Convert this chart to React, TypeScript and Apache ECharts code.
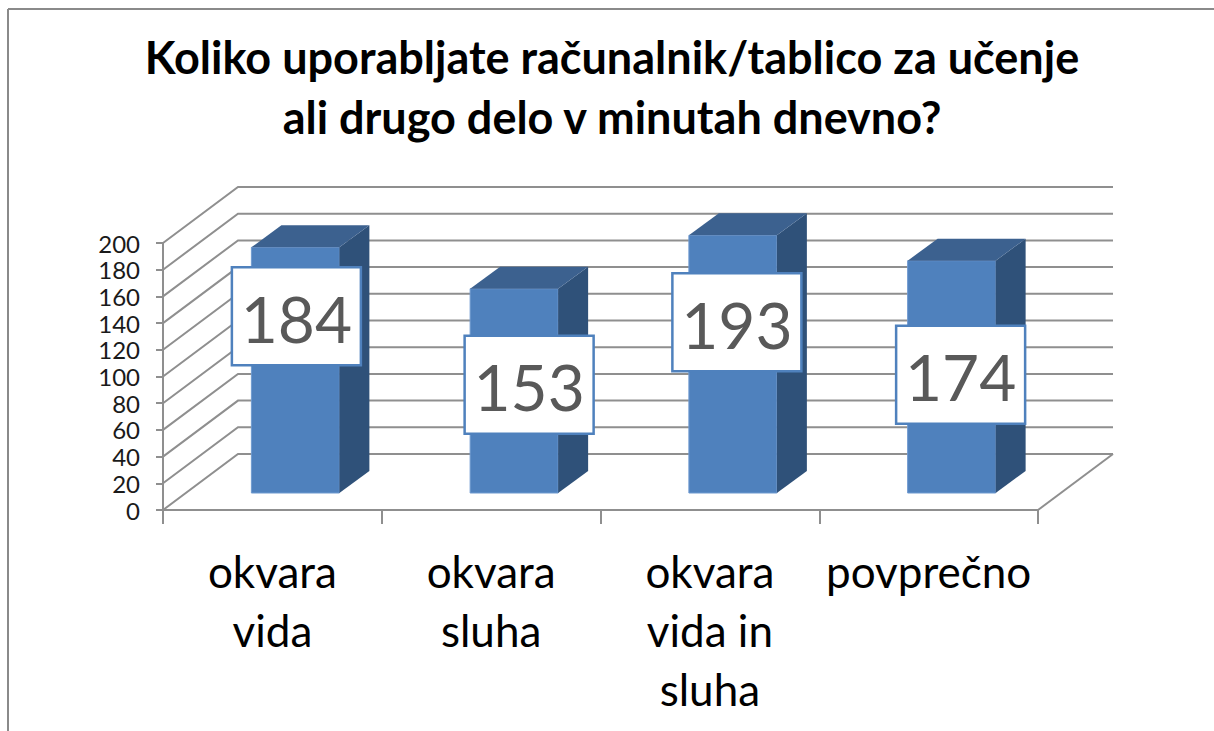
import React, { useEffect, useRef } from "react";
import * as echarts from "echarts";

const titleLines = ["Koliko uporabljate računalnik/tablico za učenje", "ali drugo delo v minutah dnevno?"];
const categories = ["okvara\nvida", "okvara\nsluha", "okvara\nvida in\nsluha", "povprečno"];
const values = [184, 153, 193, 174];
const gridTicks = [0, 20, 40, 60, 80, 100, 120, 140, 160, 180, 200];
const labelCentreBelowTop = [69, 96, 87, 114];
const labelShiftRight = [1, 15, 4, 9];

const FONT = "Lato, Carlito, Calibri, sans-serif";
const GRID = "#8f8f8f";
const WALL_DX = 75;
const WALL_DY = 56;
const BAR_SHIFT_X = 23;
const BAR_SHIFT_Y = 17;
const BAR_W = 88;
const DEPTH_X = 30;
const DEPTH_Y = 22;
const LABEL_W = 129;
const LABEL_H = 98;

function renderWall(params: any, api: any) {
  const cs = params.coordSys;
  const y = api.coord([0, api.value(1)])[1];
  return {
    type: "polyline",
    silent: true,
    shape: {
      points: [
        [cs.x, y],
        [cs.x + WALL_DX, y - WALL_DY],
        [cs.x + cs.width + WALL_DX, y - WALL_DY],
      ],
    },
    style: { fill: "none", stroke: GRID, lineWidth: 2 },
  };
}

function renderFloor(params: any, api: any) {
  const cs = params.coordSys;
  const y = api.coord([0, api.value(1)])[1];
  const xr = cs.x + cs.width;
  return {
    type: "line",
    silent: true,
    shape: { x1: xr, y1: y, x2: xr + WALL_DX, y2: y - WALL_DY },
    style: { stroke: GRID, lineWidth: 2 },
  };
}

function renderBar(_params: any, api: any) {
  const idx = api.value(0);
  const top = api.coord([idx, api.value(1)]);
  const base = api.coord([idx, 0]);
  const mid = top[0] + BAR_SHIFT_X;
  const l = mid - BAR_W / 2;
  const r = l + BAR_W;
  const t = top[1] - BAR_SHIFT_Y;
  const b = base[1] - BAR_SHIFT_Y;
  const cy = t + labelCentreBelowTop[idx];
  const cx = mid + labelShiftRight[idx];
  return {
    type: "group",
    silent: true,
    children: [
      { type: "rect", shape: { x: l, y: t, width: BAR_W, height: b - t }, style: { fill: "#4f81bd", stroke: "#6f9ad0", lineWidth: 1 } },
      {
        type: "polygon",
        shape: { points: [[r, t], [r + DEPTH_X, t - DEPTH_Y], [r + DEPTH_X, b - DEPTH_Y], [r, b]] },
        style: { fill: "#2f5179" },
      },
      {
        type: "polygon",
        shape: { points: [[l, t], [l + DEPTH_X, t - DEPTH_Y], [r + DEPTH_X, t - DEPTH_Y], [r, t]] },
        style: { fill: "#3c618f" },
      },
      {
        type: "rect",
        shape: { x: cx - LABEL_W / 2, y: cy - LABEL_H / 2, width: LABEL_W, height: LABEL_H },
        style: { fill: "#ffffff", stroke: "#4f81bd", lineWidth: 2.5 },
      },
      {
        type: "text",
        style: {
          text: String(api.value(1)),
          x: cx,
          y: cy + 2,
          textAlign: "center",
          textVerticalAlign: "middle",
          fontFamily: FONT,
          fontSize: 64,
          fill: "#595959",
        },
      },
    ],
  };
}

export default function App() {
  const ref = useRef<HTMLDivElement>(null);
  useEffect(() => {
    document.body.style.margin = "0";
    document.body.style.background = "#ffffff";
    const chart = echarts.init(ref.current!, null, { renderer: "svg" });
    chart.setOption({
      animation: false,
      backgroundColor: "#ffffff",
      title: {
        text: titleLines.join("\n"),
        left: 613,
        top: 22,
        textAlign: "center",
        textStyle: { fontFamily: FONT, fontSize: 45, fontWeight: "bold", color: "#000000", lineHeight: 60 },
      },
      grid: { left: 163, right: 176, top: 243, bottom: 221, containLabel: false },
      xAxis: {
        type: "category",
        data: categories,
        axisLine: { show: true, lineStyle: { color: GRID, width: 2 } },
        axisTick: { show: true, length: 14, lineStyle: { color: GRID, width: 2 } },
        axisLabel: { interval: 0, margin: 31, fontFamily: FONT, fontSize: 44, lineHeight: 59, color: "#000000", hideOverlap: false },
        splitLine: { show: false },
      },
      yAxis: {
        type: "value",
        min: 0,
        max: 200,
        interval: 20,
        axisLine: { show: true, lineStyle: { color: GRID, width: 2 } },
        axisTick: { show: true, length: 7, lineStyle: { color: GRID, width: 2 } },
        axisLabel: { margin: 23, fontFamily: FONT, fontSize: 24, color: "#1a1a1a" },
        splitLine: { show: false },
      },
      graphic: [
        { type: "line", shape: { x1: 8, y1: 9, x2: 8, y2: 731 }, style: { stroke: "#8a8a8a", lineWidth: 2 } },
        { type: "line", shape: { x1: 8, y1: 9, x2: 1214, y2: 9 }, style: { stroke: "#8a8a8a", lineWidth: 2 } },
      ],
      series: [
        { type: "custom", renderItem: renderWall, data: gridTicks.map((t) => [0, t]), encode: { x: 0, y: 1 }, z: 1, clip: false, silent: true },
        { type: "custom", renderItem: renderFloor, data: [[0, 0]], encode: { x: 0, y: 1 }, z: 1, clip: false, silent: true },
        { type: "custom", renderItem: renderBar, data: values.map((v, i) => [i, v]), encode: { x: 0, y: 1 }, z: 3, clip: false, silent: true },
      ],
    });
    chart.setOption({ title: { left: 607 } });
    return () => chart.dispose();
  }, []);
  return <div ref={ref} style={{ width: 1214, height: 731 }} />;
}
